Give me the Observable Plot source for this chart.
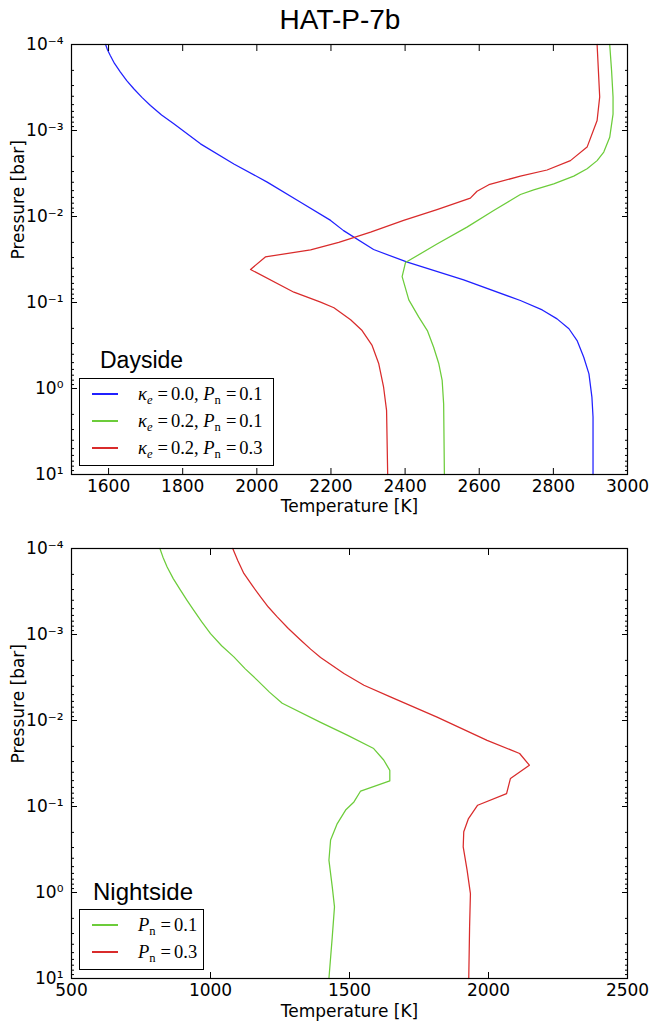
<!DOCTYPE html>
<html>
<head>
<meta charset="utf-8">
<script src="https://cdn.jsdelivr.net/npm/d3@7"></script>
<script src="https://cdn.jsdelivr.net/npm/@observablehq/plot@0.6"></script>
<style>
  html, body { margin: 0; padding: 0; background: #fff; }
  #page { position: relative; width: 652px; height: 1025px; overflow: hidden; }
  .abs { position: absolute; }
  #title { left: 0; width: 680px; top: 6px; text-align: center; font: 28px/1 "Liberation Sans", Arial, sans-serif; color: #000; }
  .legtitle { font-family: "Liberation Sans", Arial, sans-serif; line-height: 1; color: #000; }
  .legend { border: 1px solid #000; background: #fff; box-sizing: border-box; }
  .row { position: absolute; left: 0; height: 20px; width: 100%; }
  .row .ln { position: absolute; left: 12px; width: 26px; top: 9px; height: 2px; }
  .row .tx { position: absolute; left: 58px; top: 0; height: 20px; line-height: 20px; white-space: nowrap;
             font-family: "Liberation Serif", "DejaVu Serif", serif; font-size: 18.5px; color: #000; }
  .tx sub { font-size: 0.68em; vertical-align: -0.3em; line-height: 0; }
  .eq { margin: 0 3px 0 5px; }
</style>
</head>
<body>
<div id="page">
  <div id="title" class="abs">HAT-P-7b</div>
</div>
<script>
// ---------------- data ----------------
const titleText = "HAT-P-7b";
const xLabel = "Temperature [K]";
const yLabel = "Pressure [bar]";

const yMajorTicks = [1e-4, 1e-3, 1e-2, 1e-1, 1, 10];
const dayXTicks = [1600, 1800, 2000, 2200, 2400, 2600, 2800, 3000];
const nightXTicks = [500, 1000, 1500, 2000, 2500];

// Dayside, kappa_e = 0.0, Pn = 0.1 (blue)
const dayBlueT = [1592, 1597, 1605, 1616, 1632, 1649, 1668, 1690, 1713, 1743, 1776, 1848, 1938, 2028, 2118, 2199, 2234, 2315, 2406, 2558, 2711, 2770, 2810, 2842, 2864, 2882, 2896, 2904, 2907, 2907];
const dayBlueP = [1.0e-4, 1.15e-4, 1.35e-4, 1.66e-4, 2.09e-4, 2.63e-4, 3.27e-4, 4.12e-4, 5.13e-4, 6.61e-4, 8.36e-4, 1.43e-3, 2.45e-3, 3.98e-3, 6.82e-3, 1.11e-2, 1.46e-2, 2.42e-2, 3.40e-2, 5.45e-2, 9.48e-2, 0.122, 0.155, 0.202, 0.277, 0.433, 0.675, 1.26, 2.14, 10];

// Dayside, kappa_e = 0.2, Pn = 0.1 (green)
const dayGreenT = [2952, 2957, 2961, 2961, 2952, 2936, 2918, 2891, 2855, 2801, 2747, 2711, 2684, 2639, 2567, 2486, 2401, 2392, 2410, 2437, 2460, 2477, 2491, 2500, 2504, 2506];
const dayGreenP = [1.0e-4, 2.0e-4, 4.07e-4, 6.46e-4, 1.20e-3, 1.78e-3, 2.24e-3, 2.79e-3, 3.39e-3, 4.17e-3, 4.90e-3, 5.55e-3, 6.52e-3, 8.51e-3, 1.33e-2, 2.09e-2, 3.43e-2, 5.01e-2, 9.33e-2, 0.148, 0.212, 0.331, 0.516, 0.807, 1.51, 10];

// Dayside, kappa_e = 0.2, Pn = 0.3 (red)
const dayRedT = [2918, 2925, 2918, 2891, 2846, 2783, 2711, 2626, 2594, 2576, 2486, 2396, 2307, 2221, 2145, 2023, 1983, 2100, 2172, 2208, 2253, 2284, 2311, 2329, 2342, 2350, 2353];
const dayRedP = [1.0e-4, 4.07e-4, 7.66e-4, 1.56e-3, 2.24e-3, 2.88e-3, 3.39e-3, 4.27e-3, 5.08e-3, 6.12e-3, 8.30e-3, 1.11e-2, 1.52e-2, 2.0e-2, 2.44e-2, 2.95e-2, 4.13e-2, 7.59e-2, 9.91e-2, 0.115, 0.159, 0.212, 0.316, 0.516, 0.966, 1.80, 10];

// Nightside, Pn = 0.1 (green)
const nightGreenT = [818, 829, 844, 866, 892, 915, 940, 968, 1000, 1040, 1084, 1125, 1168, 1212, 1258, 1396, 1492, 1587, 1623, 1645, 1645, 1540, 1516, 1486, 1456, 1432, 1426, 1438, 1446, 1438, 1426];
const nightGreenP = [1.0e-4, 1.26e-4, 1.64e-4, 2.24e-4, 3.05e-4, 3.98e-4, 5.25e-4, 7.08e-4, 9.77e-4, 1.35e-3, 1.82e-3, 2.51e-3, 3.39e-3, 4.68e-3, 6.31e-3, 1.05e-2, 1.48e-2, 2.12e-2, 2.88e-2, 3.80e-2, 5.04e-2, 6.61e-2, 8.85e-2, 0.110, 0.158, 0.245, 0.421, 0.861, 1.47, 3.28, 10];

// Nightside, Pn = 0.3 (red)
const nightRedT = [1080, 1098, 1120, 1150, 1180, 1208, 1240, 1280, 1324, 1360, 1396, 1480, 1552, 1647, 1815, 1995, 2112, 2147, 2079, 2065, 1961, 1928, 1911, 1909, 1923, 1935, 1932, 1929];
const nightRedP = [1.0e-4, 1.38e-4, 1.95e-4, 2.69e-4, 3.66e-4, 4.79e-4, 6.24e-4, 8.51e-4, 1.16e-3, 1.48e-3, 1.85e-3, 2.84e-3, 3.89e-3, 5.32e-3, 9.12e-3, 1.70e-2, 2.42e-2, 3.31e-2, 4.72e-2, 7.08e-2, 9.66e-2, 0.138, 0.197, 0.295, 0.550, 1.03, 2.51, 10];

const blue = "#2020ff", green = "#6ccc3a", red = "#d92b2b";

const daySeries = [
  {T: dayBlueT, P: dayBlueP, color: blue, label: '<i>κ</i><sub><i>e</i></sub><span class="eq">=</span>0.0, <i>P</i><sub>n</sub><span class="eq">=</span>0.1'},
  {T: dayGreenT, P: dayGreenP, color: green, label: '<i>κ</i><sub><i>e</i></sub><span class="eq">=</span>0.2, <i>P</i><sub>n</sub><span class="eq">=</span>0.1'},
  {T: dayRedT, P: dayRedP, color: red, label: '<i>κ</i><sub><i>e</i></sub><span class="eq">=</span>0.2, <i>P</i><sub>n</sub><span class="eq">=</span>0.3'}
];
const nightSeries = [
  {T: nightGreenT, P: nightGreenP, color: green, label: '<i>P</i><sub>n</sub><span class="eq">=</span>0.1'},
  {T: nightRedT, P: nightRedP, color: red, label: '<i>P</i><sub>n</sub><span class="eq">=</span>0.3'}
];

// ---------------- helpers ----------------
const supMap = {"-": "\u207B", "0": "\u2070", "1": "\u00B9", "2": "\u00B2", "3": "\u00B3", "4": "\u2074", "5": "\u2075", "6": "\u2076", "7": "\u2077", "8": "\u2078", "9": "\u2079"};
const fmtPow = d => "10" + String(Math.round(Math.log10(d))).split("").map(c => supMap[c]).join("");
const yMinorTicks = [];
for (let k = -4; k <= 0; k++) for (let m = 2; m <= 9; m++) yMinorTicks.push(m * Math.pow(10, k));
const blank = () => "";

function panel({series, xDomain, xTicks, height, marginTop, marginBottom, xPad, labelDy}) {
  const marks = [];
  for (const s of series) {
    const data = s.T.map((t, i) => ({T: t, P: s.P[i]}));
    marks.push(Plot.line(data, {x: "T", y: "P", stroke: s.color, strokeWidth: 1.25}));
  }
  marks.push(
    Plot.frame({stroke: "#000", strokeWidth: 1.2}),
    Plot.axisX({anchor: "bottom", ticks: xTicks, tickSize: -6, tickPadding: xPad, label: null, tickFormat: d => String(d), fontSize: 17}),
    Plot.axisX({anchor: "top", ticks: xTicks, tickSize: -6, tickFormat: blank, label: null}),
    Plot.axisY({anchor: "left", ticks: yMajorTicks, tickSize: -6, tickPadding: 14, tickFormat: fmtPow, label: null, fontSize: 17}),
    Plot.axisY({anchor: "right", ticks: yMajorTicks, tickSize: -6, tickFormat: blank, label: null}),
    Plot.axisY({anchor: "left", ticks: yMinorTicks, tickSize: -3, tickFormat: blank, label: null}),
    Plot.axisY({anchor: "right", ticks: yMinorTicks, tickSize: -3, tickFormat: blank, label: null}),
    Plot.text([xLabel], {frameAnchor: "bottom", dy: labelDy, text: d => d, fontSize: 17}),
    Plot.text([yLabel], {frameAnchor: "left", dx: -53, rotate: -90, text: d => d, fontSize: 17})
  );
  return Plot.plot({
    width: 652, height, marginLeft: 71, marginRight: 25, marginTop, marginBottom,
    style: {fontFamily: "'DejaVu Sans', sans-serif", fontSize: "17px", color: "#000", background: "transparent", overflow: "visible"},
    x: {domain: xDomain},
    y: {type: "log", domain: [1e-4, 10], reverse: true},
    marks
  });
}

function legend({left, top, width, height, title, titleLeft, titleTop, titleSize, series, rowCenters}) {
  const page = document.getElementById("page");
  const t = document.createElement("div");
  t.className = "abs legtitle";
  t.style.left = titleLeft + "px"; t.style.top = titleTop + "px"; t.style.fontSize = titleSize + "px";
  t.textContent = title;
  page.appendChild(t);
  const box = document.createElement("div");
  box.className = "abs legend";
  Object.assign(box.style, {left: left + "px", top: top + "px", width: width + "px", height: height + "px"});
  series.forEach((s, i) => {
    const row = document.createElement("div");
    row.className = "row";
    row.style.top = (rowCenters[i] - top - 10) + "px";
    row.innerHTML = `<div class="ln" style="background:${s.color}"></div><div class="tx">${s.label}</div>`;
    box.appendChild(row);
  });
  page.appendChild(box);
}

// ---------------- build ----------------
const page = document.getElementById("page");
document.getElementById("title").textContent = titleText;

const day = panel({series: daySeries, xDomain: [1500, 3000], xTicks: dayXTicks, height: 486, marginTop: 10, marginBottom: 46, xPad: 11, labelDy: 37});
day.style.position = "absolute"; day.style.left = "0px"; day.style.top = "34px";
page.appendChild(day);

const night = panel({series: nightSeries, xDomain: [500, 2500], xTicks: nightXTicks, height: 505, marginTop: 28, marginBottom: 47, xPad: 11, labelDy: 38});
night.style.position = "absolute"; night.style.left = "0px"; night.style.top = "520px";
page.appendChild(night);

legend({left: 79, top: 378, width: 195, height: 88, title: "Dayside", titleLeft: 100, titleTop: 349, titleSize: 23,
        series: daySeries, rowCenters: [393, 420, 447]});
legend({left: 79, top: 909, width: 125, height: 61, title: "Nightside", titleLeft: 93, titleTop: 880, titleSize: 24,
        series: nightSeries, rowCenters: [924, 951]});
</script>
</body>
</html>
